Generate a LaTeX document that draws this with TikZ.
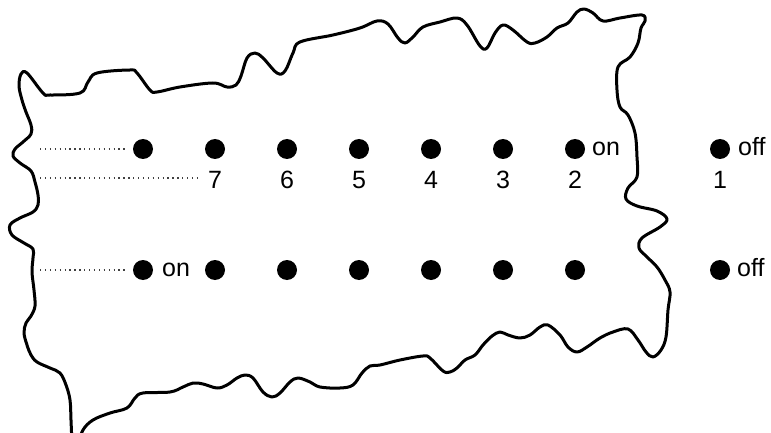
\documentclass[tikz,border=0pt]{standalone}
\usepackage{fontspec}
\setmainfont{Liberation Sans}
\begin{document}
\begin{tikzpicture}[x=1pt,y=-1pt,
  dot/.style={circle,fill=black,minimum size=20pt,inner sep=0pt},
  lab/.style={font=\fontsize{25}{27}\selectfont,inner sep=0pt},
  leader/.style={line width=1.3pt,dash pattern=on 1.3pt off 3.6pt,black!75},
  outline/.style={line width=3pt,line join=round,line cap=round}]
\useasboundingbox (0,0) rectangle (771,433);
\clip (0,0) rectangle (771,433);
% outline
\draw[outline] plot[smooth,tension=0.6] coordinates {
 (72,445) (71,420) (70,400) (66,385) (60,373) (50,368) (37,362) (31,355) (27,345)
 (24,333) (26,323) (31,316) (35,306) (34,290) (32,272) (33,258) (33,249) (24,243)
 (12,235) (10,225) (20,218) (33,212) (38,205) (38,195) (35,182) (31,171) (20,163)
 (13,156) (15,149) (23,142) (31,134) (31,125) (26,112) (22,100) (19,86) (21,74)
 (27,73) (43,93) (50,95) (80,93) (88,82) (97,73) (130,70) (137,73) (150,90) (157,92)
 (180,87) (213,83) (227,87) (236,85) (241,76) (247,58) (255,53) (263,58) (277,73)
 (285,71) (293,53) (300,42) (333,35) (360,28) (377,21) (388,24) (398,38) (405,43)
 (413,37) (423,27) (440,22) (457,18) (467,25) (480,46) (487,48) (495,33) (503,25)
 (513,30) (527,42) (535,43) (547,37) (557,28) (568,23) (577,12) (584,9) (593,13)
 (603,21) (620,18) (642,15) (645,21) (641,28) (638,43) (630,57) (618,67) (617,90)
 (620,107) (628,115) (635,133) (637,157) (637,177) (628,188) (626,199) (637,206)
 (657,211) (667,219) (660,227) (642,238) (639,248) (647,257) (657,267) (665,280)
 (670,292) (668,310) (666,337) (661,350) (653,357) (646,352) (638,340) (628,329)
 (613,332) (600,338) (587,347) (577,352) (568,347) (560,335) (548,325) (540,327)
 (530,335) (520,338) (508,335) (500,332) (492,336) (483,345) (475,355) (465,360)
 (457,368) (450,372) (443,371) (430,358) (423,356) (400,360) (380,365) (370,366)
 (362,373) (353,385) (340,388) (320,387) (310,382) (298,378) (290,382) (280,393)
 (272,397) (263,392) (253,378) (245,375) (237,378) (227,385) (217,388) (203,384)
 (193,383) (183,387) (170,392) (143,393) (135,398) (127,408) (110,413) (93,420)
 (83,430) (78,445)};
% dots
\foreach \i/\x in {a/143,b/215,c/287,d/359,e/431,f/503,g/575,h/720}{
  \node[dot] (t\i) at (\x,149) {};
  \node[dot] (u\i) at (\x,270) {};
}
% numbers
\foreach \i/\n/\x in {b/7/215,c/6/287,d/5/359,e/4/431,f/3/503,g/2/575,h/1/720}{
  \node[lab,anchor=base] (n\n) at (\x,188) {\n};
}
% on / off labels
\node[lab,anchor=base west] (on1) at (592,155.5) {on};
\node[lab,anchor=base west] (off1) at (738,155.5) {off};
\node[lab,anchor=base west] (on2) at (162,276.5) {on};
\node[lab,anchor=base west] (off2) at (737,276.5) {off};
% dotted leaders
\coordinate (s1) at (40,149);
\coordinate (s2) at (40,178);
\coordinate (s3) at (40,270);
\draw[leader] (s1) -- ([xshift=-6]ta.west);
\draw[leader] (s2) -- ([xshift=-7]n7.west |- s2);
\draw[leader] (s3) -- ([xshift=-6]ua.west);
\end{tikzpicture}
\end{document}
